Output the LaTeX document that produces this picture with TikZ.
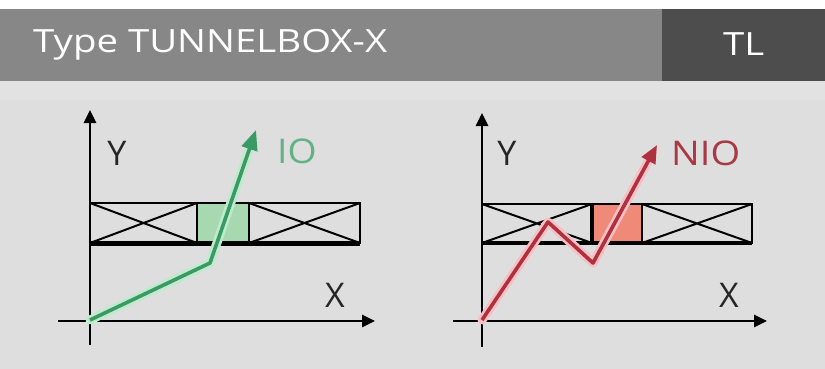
\documentclass[tikz,border=0pt]{standalone}
\usepackage{fontspec}
\setmainfont{Open Sans}
\usetikzlibrary{arrows.meta,calc}
\definecolor{hdrgray}{HTML}{878787}
\definecolor{hdrdark}{HTML}{4D4D4D}
\definecolor{bodybg}{HTML}{DEDEDE}
\definecolor{bandbg}{HTML}{E2E2E2}
\definecolor{iogreen}{HTML}{3A9A64}
\definecolor{iolight}{HTML}{C0EACD}
\definecolor{iofill}{HTML}{A8D8B0}
\definecolor{iotext}{HTML}{62B285}
\definecolor{niored}{HTML}{B0303E}
\definecolor{niolight}{HTML}{F6C0C4}
\definecolor{niofill}{HTML}{F08A78}
\definecolor{niotext}{HTML}{A83844}
\tikzset{
  axis/.style={line width=2.8pt,black,-{Triangle[length=13pt,width=12pt]}},
  boxline/.style={line width=2.8pt,black},
  crossline/.style={line width=2pt,black},
  lbl/.style={font=\fontsize{34}{34}\selectfont,text=black!85,inner sep=0pt},
  glowio/.style={line width=9pt,iolight,line join=round,line cap=round},
  arrio/.style={line width=3.6pt,iogreen,line join=round,-{Triangle[length=20pt,width=16pt]}},
  glownio/.style={line width=9pt,niolight,line join=round,line cap=round},
  arrnio/.style={line width=3.6pt,niored,line join=round,-{Triangle[length=18pt,width=15pt]}},
  hdr/.style={font=\fontsize{32}{32}\selectfont,text=white,inner sep=0pt,anchor=base west}
}
\begin{document}
\begin{tikzpicture}[x=1pt,y=-1pt]
\useasboundingbox (0,0) rectangle (825,369);
% backgrounds
\fill[white] (0,0) rectangle (825,369);
\fill[bodybg] (0,81) rectangle (825,369);
\fill[bandbg] (0,81) rectangle (825,100);
\fill[hdrgray] (0,9) rectangle (662,81);
\fill[hdrdark] (662,9) rectangle (825,81);
\node[hdr] (title) at (33,53) {\scalebox{1.2}[1]{Type TUNNELBOX-X}};
\node[hdr] (tl) at (723,56) {\scalebox{1.2}[1]{TL}};

% ---------- left panel (IO) ----------
\coordinate (yl0) at (90,345);
\coordinate (yl1) at (90,110);
\coordinate (xl0) at (58,321);
\coordinate (xl1) at (375,321);
\coordinate (ba) at (90,203);
\coordinate (bb) at (197,203);
\coordinate (bc) at (249,203);
\coordinate (bd) at (360,203);
\coordinate (ba2) at (90,243);
\coordinate (bb2) at (197,243);
\coordinate (bc2) at (249,243);
\coordinate (bd2) at (360,243);
\fill[iofill] (bb) rectangle (bc2);
\draw[crossline] (ba) -- (bb2) (bb) -- (ba2) (bc) -- (bd2) (bd) -- (bc2);
\draw[boxline] (ba) rectangle (bd2);
\draw[line width=5pt] (ba2) -- (bd2);
\draw[boxline] (bb) -- (bb2) (bc) -- (bc2);
\draw[axis] (yl0) -- (yl1);
\draw[axis] (xl0) -- (xl1);
\node[lbl] (ylab1) at (117,153) {Y};
\node[lbl] (xlab1) at (335,295) {X};
\coordinate (io0) at (90,320);
\coordinate (io1) at (210,263);
\coordinate (io2) at (256,130);
\draw[glowio] (io0) -- (io1) -- ($(io1)!0.85!(io2)$);
\draw[arrio] (io0) -- (io1) -- (io2);
\node[lbl,text=iotext,anchor=west] (io) at (277,151) {\scalebox{1.1}[1]{IO}};

% ---------- right panel (NIO) ----------
\coordinate (yr0) at (482,347);
\coordinate (yr1) at (482,113);
\coordinate (xr0) at (453,321);
\coordinate (xr1) at (767,321);
\coordinate (ra) at (482,204);
\coordinate (rb) at (592,204);
\coordinate (rc) at (642,204);
\coordinate (rd) at (752,204);
\coordinate (ra2) at (482,243);
\coordinate (rb2) at (592,243);
\coordinate (rc2) at (642,243);
\coordinate (rd2) at (752,243);
\fill[niofill] (rb) rectangle (rc2);
\draw[crossline] (ra) -- (rb2) (rb) -- (ra2) (rc) -- (rd2) (rd) -- (rc2);
\draw[boxline] (ra) rectangle (rd2);
\draw[line width=4pt] (ra2) -- (rd2);
\draw[line width=4pt] (rb) -- (rb2);
\draw[boxline] (rc) -- (rc2);
\draw[axis] (yr0) -- (yr1);
\draw[axis] (xr0) -- (xr1);
\node[lbl] (ylab2) at (507,153) {Y};
\node[lbl] (xlab2) at (729,295) {X};
\coordinate (n0) at (482,320);
\coordinate (n1) at (548,222);
\coordinate (n2) at (593,263);
\coordinate (n3) at (657,145);
\draw[glownio] (n0) -- (n1) -- (n2) -- ($(n2)!0.85!(n3)$);
\draw[arrnio] (n0) -- (n1) -- (n2) -- (n3);
\node[lbl,text=niotext,anchor=west] (nio) at (671,153) {\scalebox{1.12}[1]{NIO}};
\end{tikzpicture}
\end{document}
